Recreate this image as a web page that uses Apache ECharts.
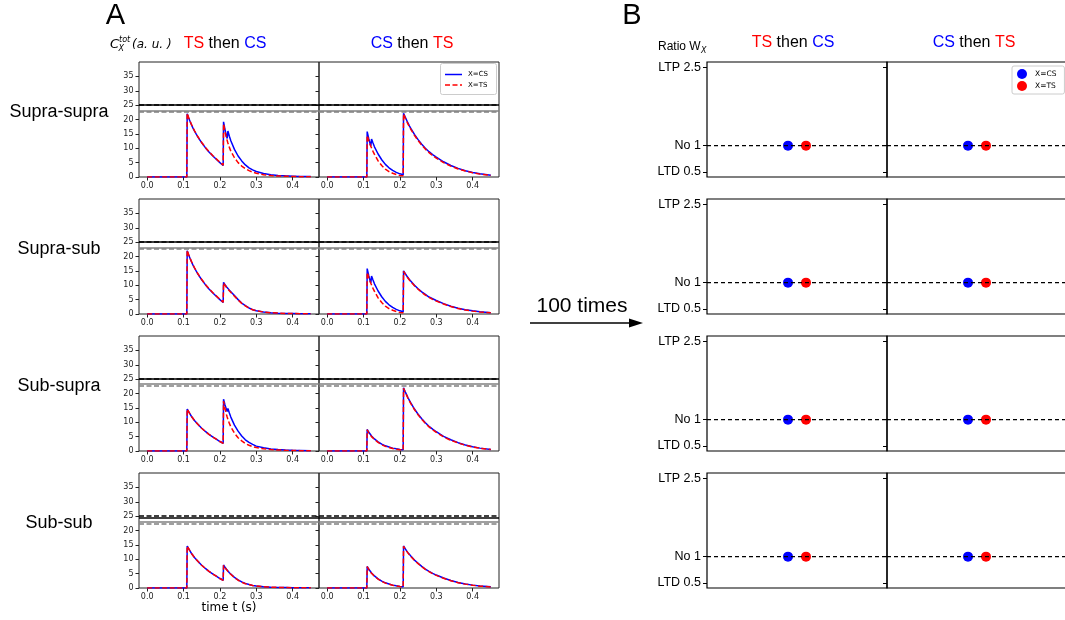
<!DOCTYPE html>
<html><head><meta charset="utf-8">
<script src="https://cdn.jsdelivr.net/npm/echarts@6/dist/echarts.min.js"></script>
<style>html,body{margin:0;padding:0;background:#fff}#c{width:1065px;height:620px}</style>
</head><body><div id="c"></div>
<script>
// ---------- data ----------
const rowLabels = ['Supra-supra', 'Supra-sub', 'Sub-supra', 'Sub-sub'];
const orderTitles = [['TS', 'CS'], ['CS', 'TS']];
const seriesNames = ['X=CS', 'X=TS'];
const xTickValues = [0, 0.1, 0.2, 0.3, 0.4];
const yTickValues = [0, 5, 10, 15, 20, 25, 30, 35];
const ratioTickValues = [0.5, 1, 2.5];
const ratioTickLabels = ['LTD 0.5', 'No 1', 'LTP 2.5'];

// time (s)
const T = [0, 0.05, 0.1, 0.109, 0.11, 0.114, 0.118, 0.12, 0.122, 0.126, 0.13, 0.14, 0.15, 0.16, 0.17, 0.18, 0.19, 0.2, 0.209,
           0.21, 0.214, 0.218, 0.22, 0.222, 0.226, 0.23, 0.24, 0.25, 0.26, 0.27, 0.28, 0.29, 0.3, 0.32, 0.34, 0.36, 0.38, 0.4, 0.42, 0.45];

// C_X^tot per panel (row, order) : X=CS / X=TS
const supraSupra_TSCS_cs = [0,0,0,0,22.0,20.6,19.3,18.7,18.1,17.0,16.0,13.8,11.9,10.2,8.7,7.4,6.2,5.0,4.0, 19.2,16.5,14.3,13.4,16.0,14.2,12.6,9.6,7.3,5.6,4.2,3.2,2.5,1.9,1.2,0.8,0.55,0.4,0.3,0.2,0.15];
const supraSupra_TSCS_ts = [0,0,0,0,22.2,20.7,19.4,18.8,18.2,17.1,16.1,13.9,12.0,10.3,8.8,7.5,6.3,5.1,4.1, 18.5,15.8,13.6,12.7,11.8,10.3,9.0,6.7,5.0,3.8,2.9,2.2,1.7,1.3,0.8,0.5,0.35,0.25,0.18,0.13,0.1];
const supraSupra_CSTS_cs = [0,0,0,0,15.8,13.5,11.6,10.8,13.2,11.8,10.5,8.0,6.0,4.4,3.2,2.3,1.6,1.1,0.8, 22.2,21.0,19.9,19.4,18.8,17.8,16.9,14.8,13.0,11.4,10.0,8.8,7.8,6.9,5.3,4.0,3.0,2.2,1.6,1.1,0.6];
const supraSupra_CSTS_ts = [0,0,0,0,14.5,12.8,11.3,10.7,10.1,8.9,7.9,5.6,4.0,2.7,1.9,1.3,0.85,0.55,0.4, 22.0,20.7,19.6,19.1,18.5,17.5,16.6,14.5,12.7,11.1,9.7,8.5,7.5,6.6,5.0,3.8,2.8,2.1,1.5,1.0,0.55];

const supraSub_TSCS_cs = [0,0,0,0,22.0,20.6,19.3,18.7,18.1,17.0,16.0,13.8,11.9,10.2,8.7,7.4,6.2,5.0,4.0, 11.0,10.2,9.5,9.2,8.9,8.3,7.8,6.4,5.0,3.8,2.9,2.1,1.5,1.1,0.7,0.45,0.3,0.2,0.15,0.1,0.08];
const supraSub_TSCS_ts = [0,0,0,0,22.2,20.7,19.4,18.8,18.2,17.1,16.1,13.9,12.0,10.3,8.8,7.5,6.3,5.1,4.1, 10.8,10.0,9.3,9.0,8.7,8.1,7.6,6.2,4.9,3.7,2.8,2.0,1.5,1.1,0.7,0.45,0.3,0.2,0.15,0.1,0.08];
const supraSub_CSTS_cs = [0,0,0,0,15.8,13.5,11.6,10.8,13.2,11.8,10.5,8.0,6.0,4.4,3.2,2.3,1.6,1.1,0.8, 15.0,14.2,13.4,13.1,12.7,12.0,11.4,10.0,8.8,7.7,6.8,5.9,5.3,4.7,3.6,2.7,2.0,1.5,1.1,0.75,0.4];
const supraSub_CSTS_ts = [0,0,0,0,14.5,12.8,11.3,10.7,10.1,8.9,7.9,5.6,4.0,2.7,1.9,1.3,0.85,0.55,0.4, 14.8,14.0,13.2,12.9,12.5,11.8,11.2,9.8,8.6,7.5,6.6,5.8,5.1,4.5,3.5,2.6,1.9,1.4,1.0,0.7,0.4];

const subSupra_TSCS_cs = [0,0,0,0,14.6,13.7,12.8,12.4,12.0,11.3,10.6,9.2,7.9,6.8,5.8,4.9,4.1,3.3,2.7, 18.0,16.0,14.4,13.7,14.8,13.2,11.8,9.0,6.9,5.2,3.9,3.0,2.3,1.7,1.1,0.7,0.5,0.35,0.25,0.2,0.12];
const subSupra_TSCS_ts = [0,0,0,0,14.6,13.7,12.8,12.4,12.0,11.3,10.6,9.2,7.9,6.8,5.8,4.9,4.1,3.3,2.7, 17.3,14.8,12.7,11.8,11.0,9.6,8.4,6.2,4.6,3.5,2.6,2.0,1.5,1.2,0.75,0.5,0.35,0.25,0.18,0.13,0.1];
const subSupra_CSTS_cs = [0,0,0,0,7.5,6.6,5.9,5.5,5.2,4.7,4.2,3.2,2.4,1.8,1.4,1.0,0.75,0.55,0.45, 22.0,20.8,19.7,19.2,18.6,17.6,16.7,14.6,12.8,11.2,9.8,8.6,7.6,6.7,5.1,3.9,2.9,2.1,1.5,1.0,0.55];
const subSupra_CSTS_ts = [0,0,0,0,7.4,6.4,5.7,5.3,5.0,4.5,4.0,3.0,2.2,1.6,1.2,0.85,0.6,0.45,0.35, 21.8,20.6,19.5,19.0,18.4,17.4,16.5,14.4,12.6,11.0,9.6,8.4,7.4,6.5,4.9,3.7,2.8,2.0,1.4,0.95,0.5];

const subSub_TSCS_cs = [0,0,0,0,14.6,13.7,12.8,12.4,12.0,11.3,10.6,9.2,7.9,6.8,5.8,4.9,4.1,3.3,2.7, 8.0,7.2,6.5,6.2,5.9,5.3,4.8,3.7,2.8,2.1,1.6,1.2,0.9,0.7,0.45,0.3,0.2,0.15,0.1,0.08,0.05];
const subSub_TSCS_ts = [0,0,0,0,14.6,13.7,12.8,12.4,12.0,11.3,10.6,9.2,7.9,6.8,5.8,4.9,4.1,3.3,2.7, 7.9,7.1,6.4,6.1,5.8,5.2,4.7,3.6,2.7,2.0,1.5,1.2,0.9,0.7,0.45,0.3,0.2,0.15,0.1,0.08,0.05];
const subSub_CSTS_cs = [0,0,0,0,7.5,6.6,5.9,5.5,5.2,4.7,4.2,3.2,2.4,1.8,1.4,1.0,0.75,0.55,0.45, 14.6,13.8,13.0,12.7,12.3,11.7,11.1,9.7,8.6,7.5,6.6,5.8,5.1,4.5,3.5,2.6,1.9,1.4,1.0,0.7,0.4];
const subSub_CSTS_ts = [0,0,0,0,7.4,6.5,5.8,5.4,5.1,4.6,4.1,3.1,2.3,1.7,1.3,0.95,0.7,0.5,0.4, 14.5,13.7,12.9,12.6,12.2,11.6,11.0,9.6,8.5,7.4,6.5,5.7,5.0,4.4,3.4,2.5,1.85,1.35,0.95,0.65,0.38];

const panelsCS = [supraSupra_TSCS_cs, supraSupra_CSTS_cs, supraSub_TSCS_cs, supraSub_CSTS_cs,
                  subSupra_TSCS_cs, subSupra_CSTS_cs, subSub_TSCS_cs, subSub_CSTS_cs];
const panelsTS = [supraSupra_TSCS_ts, supraSupra_CSTS_ts, supraSub_TSCS_ts, supraSub_CSTS_ts,
                  subSupra_TSCS_ts, subSupra_CSTS_ts, subSub_TSCS_ts, subSub_CSTS_ts];

// thresholds per row
const thetaBlackSolid = [25, 25, 25, 24.6];
const thetaBlackDashed = [25, 25, 25, 25.2];
const thetaGraySolid = [23.0, 23.2, 23.3, 23.0];
const thetaGrayDashed = [22.6, 22.7, 22.6, 22.3];

// Panel B: weight ratios after 100 repetitions (per panel)
const ratioCS = [1, 1, 1, 1, 1, 1, 1, 1];
const ratioTS = [1, 1, 1, 1, 1, 1, 1, 1];
const ratioNoChange = 1;
const dotOffset = { cs: -0.1, ts: 0.1 };

// ---------- layout ----------
const rowTops = [62, 199, 336, 473];
const H = 115, W = 180;
const aLefts = [139, 319];
const bLefts = [707, 887];
const AX = [-0.0225, 0.4725];
const BX = [-1, 1];
const BLUE = '#0000ff', RED = '#ff0000';

const grids = [], xAxes = [], yAxes = [], series = [];
const tickFont = { fontSize: 8, fontFamily: 'DejaVu Sans', color: '#222' };

// Panel A
for (let r = 0; r < 4; r++) {
  for (let c = 0; c < 2; c++) {
    const p = r * 2 + c;
    grids.push({ left: aLefts[c], top: rowTops[r], width: W, height: H, show: true, borderColor: '#222', borderWidth: 1, backgroundColor: 'transparent', containLabel: false, outerBoundsMode: 'none' });
    xAxes.push({ type: 'value', gridIndex: p, min: AX[0], max: AX[1], position: 'bottom',
      axisLine: { show: false, onZero: false }, splitLine: { show: false },
      axisTick: { show: true, length: 3.5, lineStyle: { color: '#222' }, customValues: xTickValues },
      axisLabel: Object.assign({ margin: 5, customValues: xTickValues, formatter: v => v.toFixed(1) }, tickFont) });
    yAxes.push({ type: 'value', gridIndex: p, min: 0, max: 40, position: 'left',
      axisLine: { show: false, onZero: false }, splitLine: { show: false },
      axisTick: { show: true, length: 3.5, lineStyle: { color: '#222' }, customValues: yTickValues },
      axisLabel: Object.assign({ show: c === 0, margin: 5.5, customValues: yTickValues }, tickFont) });
    series.push({
      name: seriesNames[0], type: 'line', xAxisIndex: p, yAxisIndex: p, symbol: 'none', silent: true, animation: false,
      data: T.map((t, i) => [t, panelsCS[p][i]]),
      lineStyle: { color: BLUE, width: 1.5 }, itemStyle: { color: BLUE },
      markLine: { silent: true, symbol: ['none', 'none'], label: { show: false }, animation: false,
        data: [
          { yAxis: thetaBlackSolid[r], lineStyle: { color: '#000', width: 1.5, type: 'solid' } },
          { yAxis: thetaBlackDashed[r], lineStyle: { color: '#000', width: 1.5, type: [5, 2.5] } },
          { yAxis: thetaGraySolid[r], lineStyle: { color: '#808080', width: 1.5, type: 'solid' } },
          { yAxis: thetaGrayDashed[r], lineStyle: { color: '#808080', width: 1.5, type: [5, 2.5] } }
        ] }
    });
    series.push({
      name: seriesNames[1], type: 'line', xAxisIndex: p, yAxisIndex: p, symbol: 'none', silent: true, animation: false,
      data: T.map((t, i) => [t, panelsTS[p][i]]),
      lineStyle: { color: RED, width: 1.5, type: [5, 2.5] }, itemStyle: { color: RED }
    });
  }
}

// Panel B
for (let r = 0; r < 4; r++) {
  for (let c = 0; c < 2; c++) {
    const p = r * 2 + c;
    const gi = 8 + p;
    grids.push({ left: bLefts[c], top: rowTops[r], width: W, height: H, show: true, borderColor: '#000', borderWidth: 1.2, backgroundColor: 'transparent', containLabel: false, outerBoundsMode: 'none' });
    xAxes.push({ type: 'value', gridIndex: gi, min: BX[0], max: BX[1], show: true, position: 'bottom',
      axisLine: { show: false, onZero: false }, axisTick: { show: false }, axisLabel: { show: false }, splitLine: { show: false } });
    yAxes.push({ type: 'value', gridIndex: gi, min: 0.4, max: 2.6, position: 'left',
      axisLine: { show: false, onZero: false }, splitLine: { show: false },
      axisTick: { show: true, length: 4, lineStyle: { color: '#000', width: 1 }, customValues: ratioTickValues },
      axisLabel: { show: c === 0, margin: 6, fontSize: 12.5, fontFamily: 'Liberation Sans', color: '#000', customValues: ratioTickValues,
        formatter: v => ratioTickLabels[ratioTickValues.indexOf(v)] } });
    series.push({ type: 'line', xAxisIndex: gi, yAxisIndex: gi, symbol: 'none', silent: true, animation: false,
      data: [[BX[0], ratioNoChange], [BX[1], ratioNoChange]],
      lineStyle: { color: '#000', width: 1.2, type: [4, 3] } });
    series.push({ name: seriesNames[0], type: 'scatter', xAxisIndex: gi, yAxisIndex: gi, silent: true, animation: false,
      symbolSize: 10, itemStyle: { color: BLUE, opacity: 1 }, data: [[dotOffset.cs, ratioCS[p]]] });
    series.push({ name: seriesNames[1], type: 'scatter', xAxisIndex: gi, yAxisIndex: gi, silent: true, animation: false,
      symbolSize: 10, itemStyle: { color: RED, opacity: 1 }, data: [[dotOffset.ts, ratioTS[p]]] });
  }
}

// ---------- texts ----------
const LS = '"Liberation Sans", Arial, sans-serif';
const DV = '"DejaVu Sans", sans-serif';
function orderText(pair) {
  const col = n => (n === 'TS' ? 'r' : 'b');
  return '{' + col(pair[0]) + '|' + pair[0] + '}{k| then }{' + col(pair[1]) + '|' + pair[1] + '}';
}
const richOrder = {
  r: { fill: RED, fontSize: 16, fontFamily: LS },
  b: { fill: BLUE, fontSize: 16, fontFamily: LS },
  k: { fill: '#000', fontSize: 16, fontFamily: LS }
};
const graphics = [
  { type: 'text', x: 115.5, y: 16, style: { text: 'A', fontSize: 29, fontFamily: LS, fill: '#000', align: 'center', verticalAlign: 'middle' } },
  { type: 'text', x: 632, y: 16, style: { text: 'B', fontSize: 29, fontFamily: LS, fill: '#000', align: 'center', verticalAlign: 'middle' } },
  // C_X^tot (a. u.)
  { type: 'text', x: 110, y: 45, style: { text: 'C', fontSize: 13, fontStyle: 'italic', fontFamily: DV, fill: '#000', align: 'left', verticalAlign: 'middle' } },
  { type: 'text', x: 119, y: 40, style: { text: 'tot', fontSize: 8, fontStyle: 'italic', fontFamily: DV, fill: '#000', align: 'left', verticalAlign: 'middle' } },
  { type: 'text', x: 118.5, y: 48.5, style: { text: 'X', fontSize: 8, fontStyle: 'italic', fontFamily: DV, fill: '#000', align: 'left', verticalAlign: 'middle' } },
  { type: 'text', x: 132, y: 45, style: { text: '(a. u. )', fontSize: 12, fontStyle: 'italic', fontFamily: DV, fill: '#000', align: 'left', verticalAlign: 'middle' } },
  { type: 'text', x: 225, y: 44, style: { text: orderText(orderTitles[0]), rich: richOrder, fontSize: 16, fontFamily: LS, align: 'center', verticalAlign: 'middle' } },
  { type: 'text', x: 412, y: 44, style: { text: orderText(orderTitles[1]), rich: richOrder, fontSize: 16, fontFamily: LS, align: 'center', verticalAlign: 'middle' } },
  { type: 'text', x: 793, y: 43, style: { text: orderText(orderTitles[0]), rich: richOrder, fontSize: 16, fontFamily: LS, align: 'center', verticalAlign: 'middle' } },
  { type: 'text', x: 974, y: 43, style: { text: orderText(orderTitles[1]), rich: richOrder, fontSize: 16, fontFamily: LS, align: 'center', verticalAlign: 'middle' } },
  // Ratio W_X
  { type: 'text', x: 658, y: 47, style: { text: 'Ratio W', fontSize: 12, fontFamily: LS, fill: '#000', align: 'left', verticalAlign: 'middle' } },
  { type: 'text', x: 701, y: 51, style: { text: 'X', fontSize: 8, fontStyle: 'italic', fontFamily: DV, fill: '#000', align: 'left', verticalAlign: 'middle' } },
  { type: 'text', x: 229, y: 607.5, style: { text: 'time t (s)', fontSize: 12, fontFamily: DV, fill: '#000', align: 'center', verticalAlign: 'middle' } },
  { type: 'text', x: 582, y: 306, style: { text: '100 times', fontSize: 21, fontFamily: LS, fill: '#000', align: 'center', verticalAlign: 'middle' } },
  { type: 'line', shape: { x1: 530, y1: 323, x2: 633, y2: 323 }, style: { stroke: '#000', lineWidth: 1.5 } },
  { type: 'polygon', shape: { points: [[643, 323], [629, 318.5], [629, 327.5]] }, style: { fill: '#000' } },
  // legend of panel A (line samples)
  { type: 'rect', shape: { x: 440.5, y: 63.5, width: 56, height: 31, r: 2 }, style: { fill: '#fff', stroke: '#cccccc', lineWidth: 1 }, z: 10 },
  { type: 'line', shape: { x1: 445, y1: 74.5, x2: 462, y2: 74.5 }, style: { stroke: BLUE, lineWidth: 1.5 }, z: 11 },
  { type: 'line', shape: { x1: 445, y1: 85, x2: 462, y2: 85 }, style: { stroke: RED, lineWidth: 1.5, lineDash: [5, 2.5] }, z: 11 },
  { type: 'text', x: 468, y: 74.5, style: { text: seriesNames[0], fontSize: 7, fontFamily: DV, fill: '#000', align: 'left', verticalAlign: 'middle' }, z: 11 },
  { type: 'text', x: 468, y: 85, style: { text: seriesNames[1], fontSize: 7, fontFamily: DV, fill: '#000', align: 'left', verticalAlign: 'middle' }, z: 11 }
];
const rowLabelY = [112, 249, 386, 523];
rowLabels.forEach((t, r) => graphics.push({ type: 'text', x: 59, y: rowLabelY[r],
  style: { text: t, fontSize: 18, fontFamily: LS, fill: '#000', align: 'center', verticalAlign: 'middle' } }));

const option = {
  animation: false,
  backgroundColor: '#fff',
  grid: grids, xAxis: xAxes, yAxis: yAxes, series: series,
  legend: [
    { left: 1012, top: 66, orient: 'vertical', itemWidth: 16, itemHeight: 10, itemGap: 2, padding: [3, 8, 3, 5],
      backgroundColor: '#fff', borderColor: '#ccc', borderWidth: 1, borderRadius: 2, selectedMode: false,
      textStyle: { fontSize: 7.5, fontFamily: DV, color: '#000' },
      data: [ { name: seriesNames[0], icon: 'circle', itemStyle: { color: BLUE } },
              { name: seriesNames[1], icon: 'circle', itemStyle: { color: RED } } ] }
  ],
  graphic: graphics
};
const chart = echarts.init(document.getElementById('c'), null, { renderer: 'canvas' });
chart.setOption(option);
</script>
</body></html>
